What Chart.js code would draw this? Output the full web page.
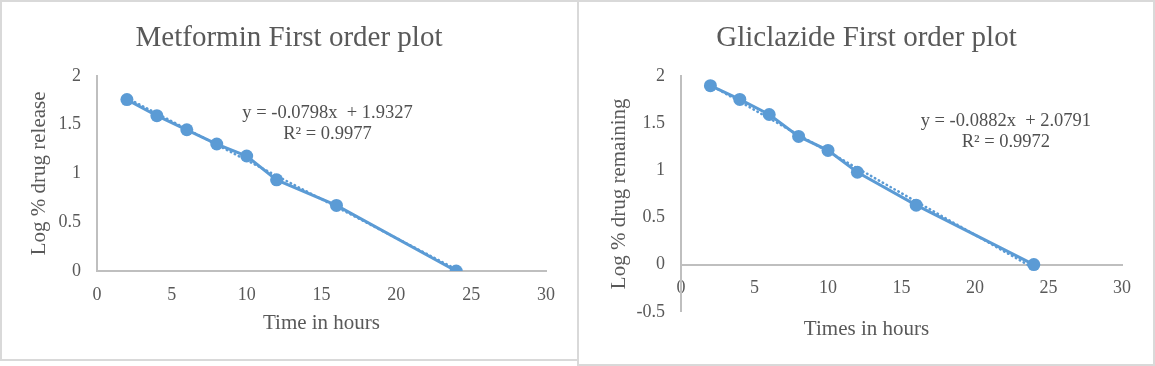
<!DOCTYPE html>
<html>
<head>
<meta charset="utf-8">
<script src="https://cdn.jsdelivr.net/npm/chart.js@4"></script>
<style>
  body { margin: 0; background: #fff; }
  .box { position: absolute; box-sizing: border-box; border: 2px solid #d9d9d9; background: #fff; }
  canvas { position: absolute; top: 0; }
</style>
</head>
<body>
<div class="box" style="left:0;top:0;width:580px;height:361px;"></div>
<div class="box" style="left:577px;top:0;width:578px;height:366px;"></div>
<canvas id="metformin" width="578" height="361" style="left:0"></canvas>
<canvas id="gliclazide" width="577" height="366" style="left:578px"></canvas>
<script>
// time points (hours)
const hours = [2, 4, 6, 8, 10, 12, 16, 24];

// log % values
const metforminLog = [1.756, 1.591, 1.447, 1.301, 1.178, 0.934, 0.672, 0];
const gliclazideLog = [1.895, 1.750, 1.590, 1.358, 1.210, 0.978, 0.630, 0];

// linear trendline ends (x = 2 and x = 24), as shown by Excel
const trendX = [2, 24];
const metforminTrend = [1.773, 0.018];
const gliclazideTrend = [1.903, -0.038];

const xTicks = [0, 5, 10, 15, 20, 25, 30];

const BLUE = '#5b9bd5';
const TEXT = '#595959';
const AXIS = '#bfbfbf';
const SERIF = '"Liberation Serif", "Times New Roman", serif';

function toPoints(xs, ys) {
    return xs.map(function(x, i) { return { x: x, y: ys[i] }; });
}

// draws the trendline equation text
const equationPlugin = {
    id: 'equation',
    afterDraw: function(chart, args, opts) {
        const ctx = chart.ctx;
        const xs = chart.scales.x;
        const ys = chart.scales.y;
        ctx.save();
        ctx.fillStyle = '#505050';
        ctx.font = '18.5px ' + SERIF;
        ctx.textAlign = 'center';
        ctx.textBaseline = 'middle';
        opts.lines.forEach(function(line) {
            ctx.fillText(line.text, xs.getPixelForValue(line.x), ys.getPixelForValue(line.y));
        });
        ctx.restore();
    }
};

function makeChart(id, title, yTitle, values, trend, yMin, opts) {
    const tickFont = { family: SERIF, size: 18 };
    const titleFont = { family: SERIF, size: 21 };
    const xScale = {
        type: 'linear',
        min: 0,
        max: 30,
        afterBuildTicks: function(s) { s.ticks = xTicks.map(function(v) { return { value: v }; }); },
        ticks: { color: TEXT, font: tickFont, padding: 13 },
        grid: { display: false, drawTicks: false },
        border: { color: AXIS, width: 2 }
    };
    if (opts.xAtZero) {
        xScale.position = { y: 0 };
    } else {
        xScale.title = { display: true, text: opts.xTitle, color: TEXT, font: titleFont, padding: { top: 0, bottom: 25 } };
        xScale.afterFit = function(s) { s.height = opts.xHeight; };
    }

    return new Chart(document.getElementById(id), {
        type: 'scatter',
        data: {
            datasets: [{
                data: toPoints(hours, values),
                showLine: true,
                borderColor: BLUE,
                backgroundColor: BLUE,
                borderWidth: 3,
                pointRadius: 6.5,
                pointBorderWidth: 0
            }, {
                data: toPoints(trendX, trend),
                showLine: true,
                borderColor: BLUE,
                borderWidth: 2.5,
                borderDash: [0.5, 4],
                borderCapStyle: 'round',
                pointRadius: 0
            }]
        },
        options: {
            responsive: false,
            animation: false,
            layout: { padding: 0 },
            plugins: {
                legend: { display: false },
                tooltip: { enabled: false },
                title: {
                    display: true,
                    text: title,
                    color: TEXT,
                    font: { family: SERIF, size: 29, weight: 'normal' },
                    padding: { top: 21, bottom: 20 }
                },
                subtitle: opts.xAtZero ? {
                    display: true,
                    position: 'bottom',
                    text: opts.xTitle,
                    color: TEXT,
                    font: titleFont,
                    padding: { top: 5, bottom: 24 }
                } : { display: false },
                equation: { lines: opts.equation }
            },
            scales: {
                x: xScale,
                y: {
                    min: yMin,
                    max: 2,
                    ticks: {
                        stepSize: 0.5, color: TEXT, font: tickFont, padding: 16,
                        callback: function(v) { return String(v); }
                    },
                    grid: { display: false, drawTicks: false },
                    border: { color: AXIS, width: 2 },
                    title: { display: true, text: yTitle, color: TEXT, font: titleFont, padding: { top: opts.yTitlePad } },
                    afterFit: function(s) { s.width = opts.yWidth; }
                },
                // empty spacer on the right so the title stays centred on the box
                spacer: {
                    type: 'linear',
                    position: 'right',
                    min: 0,
                    max: 1,
                    ticks: { display: false },
                    grid: { display: false, drawTicks: false },
                    border: { display: false },
                    afterFit: function(s) { s.width = opts.rightPad; }
                }
            }
        },
        plugins: [equationPlugin]
    });
}

makeChart('metformin', 'Metformin First order plot', 'Log % drug release',
    metforminLog, metforminTrend, 0, {
        xTitle: 'Time in hours',
        xHeight: 90,
        rightPad: 32,
        yWidth: 97,
        yTitlePad: 27,
        equation: [
            { text: 'y = -0.0798x  + 1.9327', x: 15.4, y: 1.62 },
            { text: 'R² = 0.9977', x: 15.4, y: 1.40 }
        ]
    });

makeChart('gliclazide', 'Gliclazide First order plot', 'Log % drug remaining',
    gliclazideLog, gliclazideTrend, -0.5, {
        xTitle: 'Times in hours',
        xAtZero: true,
        rightPad: 33,
        yWidth: 103,
        yTitlePad: 29,
        equation: [
            { text: 'y = -0.0882x  + 2.0791', x: 22.1, y: 1.516 },
            { text: 'R² = 0.9972', x: 22.1, y: 1.294 }
        ]
    });
</script>
</body>
</html>
